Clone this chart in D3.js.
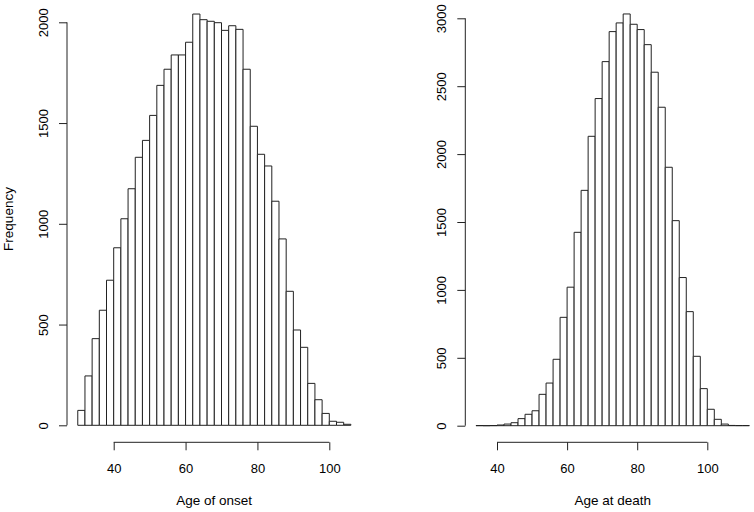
<!DOCTYPE html>
<html>
<head>
<meta charset="utf-8">
<script src="https://cdn.jsdelivr.net/npm/d3@7/dist/d3.min.js"></script>
<style>
  html, body { margin: 0; padding: 0; background: #fff; }
  svg { display: block; }
  text { font-family: "Liberation Sans", Arial, Helvetica, sans-serif; fill: #000; }
</style>
</head>
<body>
<svg id="chart" width="754" height="512"></svg>
<script>
// ---- Data ----
// Left histogram: Age of onset, bin breaks and counts
const onsetBreaks = [30,32,34,36,38,40,42,44,46,48,50,52,54,56,58,60,62,64,66,68,70,72,74,76,78,80,82,84,86,88,90,92,94,96,98,100,102,104,106];
const onsetCounts = [74,245,430,571,720,881,1025,1174,1330,1414,1538,1687,1767,1838,1838,1901,2041,2013,2005,1998,1960,1983,1965,1767,1484,1345,1287,1112,925,665,473,387,208,127,59,20,15,5];
// Right histogram: Age at death
const deathBreaks = [34,36,38,40,42,44,46,48,50,52,54,56,58,60,62,64,66,68,70,72,74,76,78,80,82,84,86,88,90,92,94,96,98,100,102,104,106,108,110,112];
const deathCounts = [1,0,1,5,12,22,52,84,110,231,314,489,798,1020,1424,1733,2131,2409,2681,2902,2966,3032,2956,2917,2806,2603,2345,1903,1510,1091,840,511,273,121,47,12,2,1,1];
// Axis ticks
const xTicks = [40,60,80,100];
const onsetYTicks = [0,500,1000,1500,2000];
const deathYTicks = [0,500,1000,1500,2000,2500,3000];
const onsetXLabel = "Age of onset";
const deathXLabel = "Age at death";
const yLabel = "Frequency";

const svg = d3.select("#chart");
const FS = "13.5px";
const TFS = "13px";
const fmt = d3.format("d");

function drawHist(cfg) {
  const g = svg.append("g");
  const x = d3.scaleLinear().domain([40, 100]).range(cfg.xRange);
  const y = d3.scaleLinear().domain([0, cfg.yTopVal]).range([cfg.y0, cfg.yTopPx]);

  const bins = cfg.counts.map((c, i) => ({x0: cfg.breaks[i], x1: cfg.breaks[i + 1], n: c}));
  g.selectAll("path.bar").data(bins).enter().append("path")
    .attr("class", "bar")
    .attr("d", d => `M${x(d.x0)},${y(0)}V${y(d.n)}H${x(d.x1)}V${y(0)}Z`)
    .attr("fill", "#fff")
    .attr("stroke", "#222")
    .attr("stroke-width", 1);

  // x axis (R style: line from first to last tick)
  const xAxis = d3.axisBottom(x).tickValues(xTicks).tickFormat(fmt).tickSize(8).tickSizeOuter(0);
  const xg = g.append("g").attr("transform", `translate(0,${cfg.xAxisY})`).call(xAxis);
  xg.select(".domain").attr("d", `M${x(xTicks[0])},0H${x(xTicks[xTicks.length - 1])}`).attr("stroke", "#222");
  xg.selectAll(".tick line").attr("stroke", "#222");
  xg.selectAll(".tick text").style("font-size", TFS).attr("dy", null).attr("y", 30.5);

  // y axis
  const yAxis = d3.axisLeft(y).tickValues(cfg.yTicks).tickFormat(fmt).tickSize(8).tickSizeOuter(0);
  const yg = g.append("g").attr("transform", `translate(${cfg.yAxisX},0)`).call(yAxis);
  const yt = cfg.yTicks;
  yg.select(".domain").attr("d", `M0,${y(yt[0])}V${y(yt[yt.length - 1])}`).attr("stroke", "#222");
  yg.selectAll(".tick line").attr("stroke", "#222");
  yg.selectAll(".tick text")
    .style("font-size", TFS)
    .attr("x", null).attr("dy", null)
    .attr("text-anchor", "middle")
    .attr("transform", "translate(-19.5,0) rotate(-90)");

  // x label (centered on the plot region)
  g.append("text")
    .attr("x", (x(40) + x(100)) / 2 + (cfg.xLabelShift || 0))
    .attr("y", 504.5)
    .attr("text-anchor", "middle")
    .style("font-size", FS)
    .text(cfg.xLabel);
}

drawHist({
  breaks: onsetBreaks, counts: onsetCounts, yTicks: onsetYTicks,
  xRange: [113.7, 329.3], y0: 425.3, yTopVal: 2000, yTopPx: 22.3,
  xAxisY: 442.3, yAxisX: 67, xLabel: onsetXLabel, xLabelShift: -7.3
});
drawHist({
  breaks: deathBreaks, counts: deathCounts, yTicks: deathYTicks,
  xRange: [497, 707.3], y0: 425.7, yTopVal: 3000, yTopPx: 18.3,
  xAxisY: 442.3, yAxisX: 465.3, xLabel: deathXLabel, xLabelShift: 10.7
});

// y label (left only)
svg.append("text")
  .attr("transform", "translate(13,219) rotate(-90)")
  .attr("text-anchor", "middle")
  .style("font-size", FS)
  .text(yLabel);
</script>
</body>
</html>
